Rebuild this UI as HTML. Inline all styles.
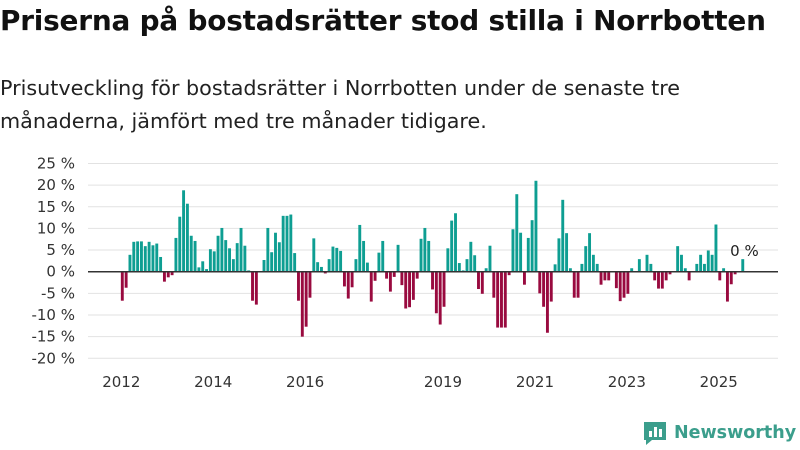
<!DOCTYPE html>
<html><head><meta charset="utf-8"><style>
body{margin:0;width:800px;height:450px;background:#fff;font-family:"Liberation Sans","DejaVu Sans",sans-serif;overflow:hidden;position:relative}
h1{position:absolute;left:0;top:4px;margin:0;font-size:27.9px;font-weight:bold;color:#111;font-family:"DejaVu Sans",sans-serif;letter-spacing:-0.2px;white-space:nowrap}
p{position:absolute;left:0;top:72px;margin:0;font-size:20.7px;line-height:33px;color:#222;font-family:"DejaVu Sans",sans-serif;width:790px}
svg{position:absolute;left:0;top:0}
</style></head><body>
<h1>Priserna på bostadsrätter stod stilla i Norrbotten</h1>
<p>Prisutveckling för bostadsrätter i Norrbotten under de senaste tre månaderna, jämfört med tre månader tidigare.</p>
<svg id="c" width="800" height="450"></svg>
<script>
const values=[-6.7,-3.7,3.9,6.9,7.0,7.0,5.9,6.9,6.1,6.5,3.4,-2.3,-1.3,-0.8,7.8,12.7,18.8,15.7,8.3,7.1,1.0,2.4,0.6,5.2,4.7,8.3,10.1,7.3,5.4,2.9,6.6,10.1,6.0,0.3,-6.7,-7.6,0,2.7,10.1,4.5,9.0,6.8,12.9,12.9,13.2,4.3,-6.7,-15,-12.7,-6.0,7.7,2.2,1.1,-0.4,2.9,
5.8,5.5,4.8,-3.4,-6.2,-3.6,2.9,10.8,7.1,2.1,-6.9,-2.1,4.4,7.1,-1.6,-4.6,-1.2,6.2,-3.1,-8.5,-8.2,-6.5,-1.6,7.6,10.1,7.1,-4.1,-9.6,-12.2,-8.1,5.4,11.8,13.5,2.0,0.3,2.9,6.9,3.8,-4.0,-5.1,0.8,6.0,-6.0,-12.9,-12.9,-12.9,-0.8,9.8,17.9,9.0,-3.0,7.8,11.9,
21.0,-5.0,-8.1,-14.1,-6.9,1.7,7.7,16.6,8.9,0.8,-6.0,-6.0,1.8,5.9,8.9,3.9,1.8,-3.0,-2.0,-2.0,0,-3.8,-6.8,-6.0,-5.1,0.8,0,2.9,0,3.9,1.8,-2.0,-3.9,-3.9,-2.0,-0.6,0,5.9,3.9,0.8,-2.0,0,1.8,3.9,1.8,4.9,3.9,10.9,-2.0,0.8,-6.9,-2.9,-0.6,0,2.9];
const startYear=2012;
const yTicks=[25,20,15,10,5,0,-5,-10,-15,-20];
const yTickLabels=["25 %","20 %","15 %","10 %","5 %","0 %","-5 %","-10 %","-15 %","-20 %"];
const xTickYears=[2012,2014,2016,2019,2021,2023,2025];
const lastLabel="0 %";
const NS="http://www.w3.org/2000/svg",svg=document.getElementById('c');
const y=v=>271.7-v*4.33;
const x=i=>122.3+i*3.83;
function mk(t,a){const e=document.createElementNS(NS,t);for(const k in a)e.setAttribute(k,a[k]);svg.appendChild(e);return e;}
yTicks.forEach((t,i)=>{
 const g=mk('line',{x1:88,x2:778,y1:y(t),y2:y(t),stroke:'#e2e2e2','stroke-width':1});
 
 
 const l=mk('text',{x:75,y:y(t)+5,'text-anchor':'end','font-size':15,fill:'#333','font-family':'DejaVu Sans, sans-serif'});
 l.textContent=yTickLabels[i];
 
 
});
values.forEach((v,i)=>{
 const r=mk('rect',{x:x(i)-1.45,width:2.9,y:Math.min(y(v),y(0)),height:Math.abs(y(v)-y(0)),fill:v>=0?'#0e9e92':'#990a3f'});
 
 
});
const z=mk('line',{x1:88,x2:778,y1:y(0),y2:y(0),stroke:'#333','stroke-width':1.5});


xTickYears.forEach(yr=>{
 const px=x((yr-startYear)*12)-1;
 const l=mk('text',{x:px,y:387,'text-anchor':'middle','font-size':15,fill:'#333','font-family':'DejaVu Sans, sans-serif'});
 l.textContent=yr;
 
 
});
const ll=mk('text',{x:x(values.length-1)+16,y:256,'text-anchor':'end','font-size':15,fill:'#222','font-family':'DejaVu Sans, sans-serif'});
ll.textContent=lastLabel;


</script>
<div style="position:absolute;left:642px;top:420px;display:flex;align-items:center;gap:6px">
<svg width="26" height="26" style="position:static" viewBox="0 0 26 26"><path d="M2 2h22v18H10l-6 5v-5H2z" fill="#3b9e8c"/><rect x="7" y="11" width="3" height="6" fill="#fff"/><rect x="12" y="7" width="3" height="10" fill="#fff"/><rect x="17" y="9" width="3" height="8" fill="#fff"/></svg>
<span style="font-size:17.5px;font-weight:bold;color:#3b9e8c;font-family:'DejaVu Sans',sans-serif">Newsworthy</span></div>
</body></html>
